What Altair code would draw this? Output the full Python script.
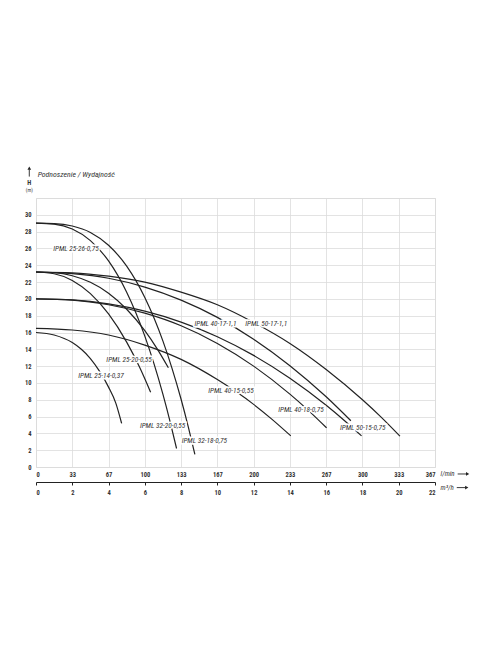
import altair as alt
import pandas as pd

# ---------------- data ----------------
# flow Q (m3/h) and head H (m) along each pump curve
q_c1 = [0, 1, 2, 3, 4, 5, 6, 7, 7.5, 8, 8.4, 8.76]
h_c1 = [29, 28.96, 28.67, 27.9, 26.38, 23.89, 20.16, 14.97, 11.74, 8.06, 4.75, 1.5]

q_c2 = [0, 1, 2, 3, 4, 5, 6, 6.5, 7, 7.4, 7.75]
h_c2 = [29, 28.89, 28.31, 26.93, 24.51, 20.79, 15.57, 12.33, 8.64, 5.35, 2.2]

q_c3 = [0, 1, 2, 3, 4, 5, 6, 6.7, 7.3]
h_c3 = [23.2, 23.12, 22.75, 21.97, 20.67, 18.77, 16.22, 14.0, 11.8]

q_c4 = [0, 1, 2, 3, 4, 5, 5.7, 6.32]
h_c4 = [23.2, 22.99, 22.19, 20.62, 18.21, 14.86, 11.92, 8.9]

q_c5 = [0, 2, 4, 6, 8, 10, 12, 14, 16, 18, 19, 20.07]
h_c5 = [23.2, 23.1, 22.7, 22.0, 20.8, 19.3, 17.2, 14.7, 11.6, 8.0, 6.0, 3.67]

q_c6 = [0, 2, 4, 6, 8, 10, 12, 14, 16, 17.36]
h_c6 = [23.2, 23.0, 22.45, 21.4, 19.85, 17.8, 15.2, 12.05, 8.35, 5.5]

q_c7 = [0, 2, 4, 6, 8, 10, 12, 14, 16, 17, 17.95]
h_c7 = [20, 19.87, 19.4, 18.54, 17.24, 15.5, 13.28, 10.56, 7.34, 5.54, 3.7]

q_c8 = [0, 2, 4, 6, 8, 10, 12, 14, 15, 16.02]
h_c8 = [20, 19.86, 19.3, 18.3, 16.8, 14.7, 12.0, 8.67, 6.77, 4.66]

q_c9 = [0, 2, 4, 6, 8, 10, 12, 13, 14.05]
h_c9 = [16.5, 16.3, 15.7, 14.5, 12.8, 10.4, 7.45, 5.7, 3.7]

q_c10 = [0, 1, 2, 2.5, 3, 3.5, 4, 4.4, 4.72]
h_c10 = [16, 15.7, 14.8, 14.0, 12.9, 11.4, 9.5, 7.6, 5.2]

curve_names = ["IPML 32-18-0,75", "IPML 32-20-0,55", "IPML 25-26-0,75", "IPML 25-20-0,55",
               "IPML 50-17-1,1", "IPML 40-17-1,1", "IPML 50-15-0,75", "IPML 40-18-0,75",
               "IPML 40-15-0,55", "IPML 25-14-0,37"]
curve_q = [q_c1, q_c2, q_c3, q_c4, q_c5, q_c6, q_c7, q_c8, q_c9, q_c10]
curve_h = [h_c1, h_c2, h_c3, h_c4, h_c5, h_c6, h_c7, h_c8, h_c9, h_c10]

# curve labels (left anchor in data units)
label_text = ["IPML 25-26-0,75", "IPML 40-17-1,1", "IPML 50-17-1,1", "IPML 25-20-0,55",
              "IPML 25-14-0,37", "IPML 40-15-0,55", "IPML 32-20-0,55", "IPML 32-18-0,75",
              "IPML 40-18-0,75", "IPML 50-15-0,75"]
label_q = [0.95, 8.74, 11.54, 3.88, 2.33, 9.5, 5.73, 8.03, 13.36, 16.76]
label_h = [25.95, 17.02, 17.02, 12.74, 10.83, 9.05, 4.92, 3.13, 6.79, 4.61]

# axis ticks
m3h_ticks = list(range(0, 23, 2))
lmin_labels = ["0", "33", "67", "100", "133", "167", "200", "233", "267", "300", "333", "367"]
h_ticks = list(range(0, 33, 2))

title_text = "Podnoszenie / Wydajność"

# ---------------- build tables ----------------
rows = []
for name, qs, hs in zip(curve_names, curve_q, curve_h):
    for i, (q, h) in enumerate(zip(qs, hs)):
        rows.append({"curve": name, "q": q, "h": h, "i": i})
df = pd.DataFrame(rows)
lab = pd.DataFrame({"text": label_text, "q": label_q, "h": label_h})

NUMFONT = "Liberation Sans Narrow, Roboto Condensed, Roboto, sans-serif"
TXTFONT = "Liberation Sans Narrow, Roboto Condensed, Roboto, sans-serif"
INK = "#222222"
TXT = "#333333"

x_scale = alt.Scale(domain=[0, 22], nice=False, zero=False)
y_scale = alt.Scale(domain=[0, 32], nice=False, zero=False)

lmin_expr = "[" + ",".join("'%s'" % s for s in lmin_labels) + "][round(datum.value/2)]"

lmin_axis = alt.Axis(values=m3h_ticks, labelExpr=lmin_expr, domain=False, ticks=False,
                     grid=True, gridColor="#dcdcdc", gridWidth=0.8, labelFont=NUMFONT,
                     labelFontSize=6.5, labelFontWeight="bold", labelColor=TXT,
                     labelPadding=4, title=None, orient="bottom")
m3h_axis = alt.Axis(values=m3h_ticks, orient="bottom", offset=15, domain=True,
                    domainColor=INK, domainWidth=1, ticks=True, tickColor=INK,
                    tickSize=3, grid=False, labelFont=NUMFONT, labelFontSize=6.5,
                    labelFontWeight="bold", labelColor=TXT, labelPadding=4, title=None)
y_axis = alt.Axis(values=h_ticks, labelExpr="datum.value == 32 ? '' : datum.label",
                  domain=False, ticks=False, grid=True, gridColor="#dcdcdc", gridWidth=0.8,
                  labelFont=NUMFONT, labelFontSize=6.5, labelFontWeight="bold",
                  labelColor=TXT, labelPadding=5, title=None)

lines = alt.Chart(df).mark_line(color=INK, strokeWidth=1.2, interpolate="monotone").encode(
    x=alt.X("q:Q", scale=x_scale, axis=lmin_axis),
    y=alt.Y("h:Q", scale=y_scale, axis=y_axis),
    detail="curve:N",
    order="i:Q",
)

halo = alt.Chart(lab).mark_text(align="left", baseline="middle", font=TXTFONT, fontSize=7.3,
                                fontStyle="italic", color="white", stroke="white",
                                strokeWidth=3).encode(
    x=alt.X("q:Q", scale=x_scale, axis=m3h_axis),
    y=alt.Y("h:Q", scale=y_scale, axis=None),
    text="text:N",
)

labels = alt.Chart(lab).mark_text(align="left", baseline="middle", font=TXTFONT, fontSize=7.3,
                                  fontStyle="italic", color=TXT).encode(
    x=alt.X("q:Q", scale=x_scale, axis=None),
    y=alt.Y("h:Q", scale=y_scale, axis=None),
    text="text:N",
)

# annotations: title, H (m), unit names with arrows
ann_title = alt.Chart(pd.DataFrame({"text": [title_text], "q": [0.09], "h": [34.76]})).mark_text(
    align="left", baseline="middle", font=TXTFONT, fontSize=7.8, fontStyle="italic",
    color=TXT).encode(x=alt.X("q:Q", scale=x_scale, axis=None),
                      y=alt.Y("h:Q", scale=y_scale, axis=None), text="text:N")

ann_units = pd.DataFrame({"text": ["l/min", "m³/h"], "q": [22.31, 22.31], "h": [-0.83, -2.5]})
ann_i = alt.Chart(ann_units).mark_text(align="left", baseline="middle", font=TXTFONT,
                                       fontSize=7, fontStyle="italic", color=TXT).encode(
    x=alt.X("q:Q", scale=x_scale, axis=None),
    y=alt.Y("h:Q", scale=y_scale, axis=None), text="text:N")

ann_h = alt.Chart(pd.DataFrame({"text": ["H"], "q": [-0.37], "h": [33.8]})).mark_text(
    align="center", baseline="middle", font=NUMFONT, fontSize=6.5, fontWeight="bold",
    color=TXT).encode(x=alt.X("q:Q", scale=x_scale, axis=None),
                      y=alt.Y("h:Q", scale=y_scale, axis=None), text="text:N")
ann_m = alt.Chart(pd.DataFrame({"text": ["(m)"], "q": [-0.37], "h": [33.0]})).mark_text(
    align="center", baseline="middle", font=NUMFONT, fontSize=5, color=TXT).encode(
    x=alt.X("q:Q", scale=x_scale, axis=None),
    y=alt.Y("h:Q", scale=y_scale, axis=None), text="text:N")

arrow_rules = pd.DataFrame({"q": [-0.37, 23.25, 23.2], "q2": [-0.37, 23.75, 23.7],
                            "h": [34.55, -0.83, -2.45], "h2": [35.4, -0.83, -2.45]})
arr = alt.Chart(arrow_rules).mark_rule(color=INK, strokeWidth=0.9).encode(
    x=alt.X("q:Q", scale=x_scale, axis=None), x2="q2:Q",
    y=alt.Y("h:Q", scale=y_scale, axis=None), y2="h2:Q")

heads = pd.DataFrame({"q": [-0.37, 23.8, 23.75], "h": [35.55, -0.83, -2.45],
                      "shape": ["triangle-up", "triangle-right", "triangle-right"]})
head = alt.Chart(heads).mark_point(filled=True, color=INK, size=14, opacity=1).encode(
    x=alt.X("q:Q", scale=x_scale, axis=None),
    y=alt.Y("h:Q", scale=y_scale, axis=None),
    shape=alt.Shape("shape:N", scale=None, legend=None))

chart = alt.layer(lines, halo, labels, ann_title, ann_i, ann_h, ann_m, arr, head).resolve_axis(
    x="independent", y="independent"
).properties(
    width=399, height=269,
    padding={"left": 16, "top": 158, "right": 5, "bottom": 5},
).configure_view(stroke=None).configure(background="white")

chart.save("out.html", embed_options={"renderer": "svg", "actions": False})
